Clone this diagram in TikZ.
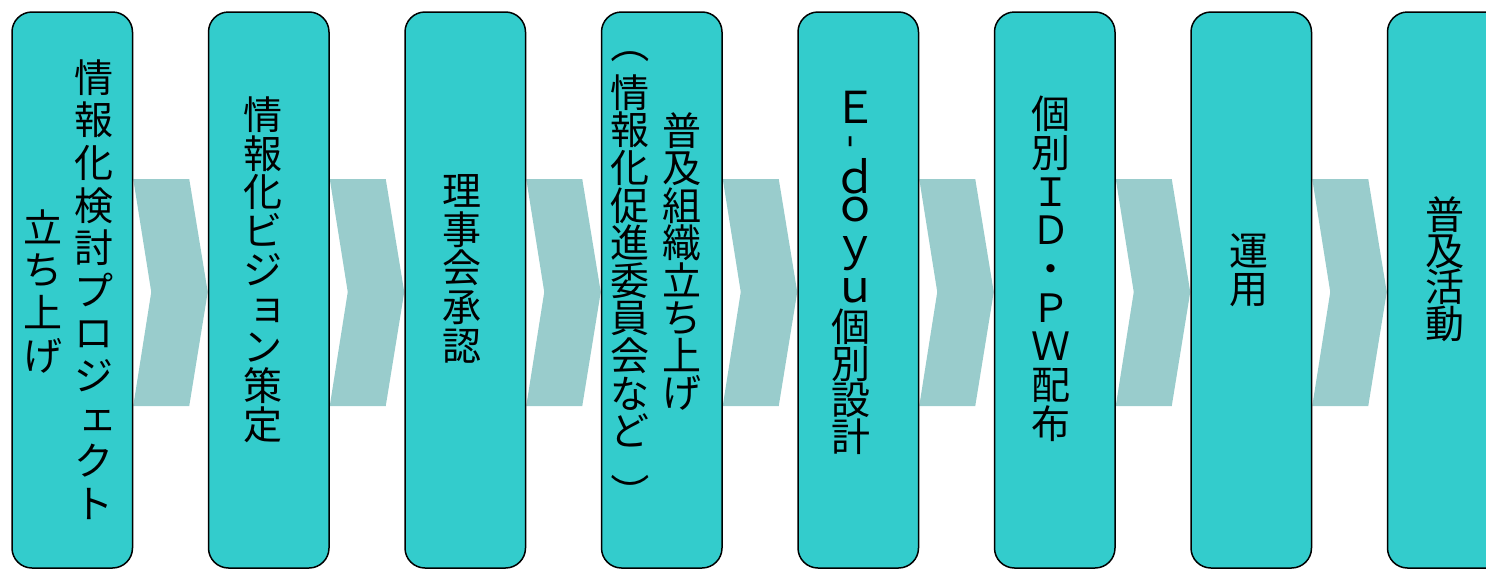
\documentclass[tikz,border=0pt]{standalone}
\usepackage{fontspec}
\usepackage{graphicx}
\newfontfamily\jp{Noto Sans CJK JP}
\usetikzlibrary{backgrounds,calc}
\definecolor{boxteal}{HTML}{33CCCC}
\definecolor{chevteal}{HTML}{99CCCC}
\tikzset{
  stepbox/.style={draw=black, line width=1.5pt, fill=boxteal, rounded corners=20pt,
    minimum width=120.5pt, minimum height=556pt, inner sep=0pt},
  chev/.style={fill=chevteal},
  ch/.style={font=\jp\fontsize{39pt}{39pt}\selectfont, inner sep=0pt,
    text height=32pt, text depth=2.5pt, anchor=center},
  latin/.style={font=\jp\fontsize{44pt}{44pt}\selectfont, inner sep=0pt, anchor=base},
  dashmark/.style={font=\jp\fontsize{39pt}{39pt}\selectfont, inner sep=0pt,
    text height=6pt, text depth=6pt, text width=6pt, align=center, anchor=center},
}
\newcommand\vcol[5]{\foreach \c [count=\i from 0] in {#5} {\node[ch, name=#1-\i] at (#2,{#3+\i*#4}) {\c};}}
\newcommand\vpos[4]{\foreach \c/\yy [count=\i from 0] in {#4} {\node[#1, name=#2-\i] at (#3,\yy) {\c};}}
\newcommand\smk[1]{\makebox[0pt]{\hspace{9pt}\raisebox{3pt}{#1}}}
\newcommand\emcell[1]{\makebox[39pt]{\rule[-4.7pt]{0pt}{39pt}#1}}
\newcommand\rotcell[2]{\rotatebox[origin=c]{#1}{\emcell{#2}}}
\begin{document}
\begin{tikzpicture}[x=1pt,y=-1pt]
\useasboundingbox (0,0) rectangle (1486,568);
\clip (0,0) rectangle (1486,568);
\foreach \k in {1,...,8} \node[stepbox, name=b\k] at ({72.25+(\k-1)*196.5},290) {};
\begin{scope}[on background layer]
  \foreach \k [evaluate=\k as \n using {int(\k+1)}] in {1,...,7} {
    \fill[chev] (b\k.east |- 0,179) -- ($(b\k.east |- 0,179)+(56,0)$) -- (b\n.west |- 0,292)
      -- ($(b\k.east |- 0,406)+(56,0)$) -- (b\k.east |- 0,406) -- ($(b\k.east |- 0,292)+(18,0)$) -- cycle;
  }
\end{scope}
\vcol{t1a}{93.5}{77.5}{42.6}{情,報,化,検,討,プ,ロ,ジ,{\smk{ェ}},ク,ト}
\vcol{t1b}{43}{227.5}{42.7}{立,ち,上,げ}
\vcol{t2}{263}{114.5}{38.75}{情,報,化,ビ,ジ,{\smk{ョ}},ン,策,定}
\vcol{t3}{462}{190.5}{38.8}{理,事,会,承,認}
\vcol{t4a}{682}{130.5}{37.5}{普,及,組,織,立,ち,上,げ}
\node[ch, name=t4b-open] at (630,44) {\rotcell{-90}{（}};
\vcol{t4b}{630}{92.5}{37.6}{情,報,化,促,進,委,員,会,な,ど}
\node[ch, name=t4b-close] at (630,493) {\rotcell{-90}{）}};
\node[latin, text height=30pt, text depth=0pt, name=t5-0] at (855,123) {Ｅ};
\node[dashmark, name=t5-1] at (851.5,142) {\makebox[0pt]{\hspace{-9.6pt}\smash{\raisebox{-14.8pt}{\rotcell{90}{-}}}}};
\node[latin, text height=32pt, text depth=0pt, name=t5l-0] at (855,193) {ｄ};
\node[latin, text height=23pt, text depth=0pt, name=t5l-1] at (855,221) {ｏ};
\node[latin, text height=23pt, text depth=9pt, name=t5l-2] at (855,260) {ｙ};
\node[latin, text height=23pt, text depth=0pt, name=t5l-3] at (855,302) {ｕ};
\vpos{ch}{t5k}{851}{個/327,別/363.5,設/400,計/436.5}
\vcol{t6}{1051}{114}{38.7}{個,別,Ｉ,Ｄ,・,Ｐ,Ｗ,配,布}
\vcol{t7}{1249}{250.5}{38}{運,用}
\vcol{t8}{1445}{214.5}{36.3}{普,及,活,動}
\end{tikzpicture}
\end{document}
